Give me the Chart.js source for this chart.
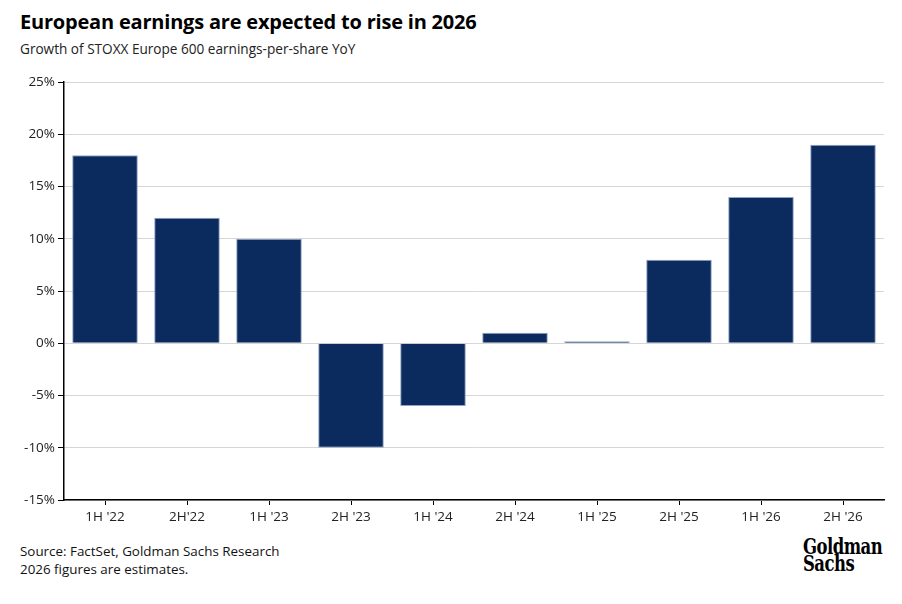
<!DOCTYPE html>
<html>
<head>
<meta charset="utf-8">
<script src="https://cdn.jsdelivr.net/npm/chart.js@4"></script>
<style>
  html, body { margin: 0; padding: 0; background: #fff; }
  body { width: 902px; height: 604px; position: relative; overflow: hidden; font-family: "Open Sans", "Noto Sans", sans-serif; color: #111; }
  #title { position: absolute; left: 20px; top: 8px; font-size: 20px; font-weight: 700; letter-spacing: -0.2px; color: #000; }
  #subtitle { position: absolute; left: 20px; top: 39px; font-size: 13.6px; color: #222; }
  #wrap { position: absolute; left: 0; top: 70px; width: 902px; height: 460px; }
  #foot { position: absolute; left: 20px; top: 542px; font-size: 13.4px; line-height: 18px; color: #111; }
  #logo { position: absolute; left: 803px; top: 538px; font-family: "DejaVu Serif Condensed", "DejaVu Serif", serif; font-weight: 700; font-size: 22px; line-height: 17px; color: #000; letter-spacing: -0.6px; transform: scaleX(0.83); transform-origin: left top; }
</style>
</head>
<body>
<div id="title">European earnings are expected to rise in 2026</div>
<div id="subtitle">Growth of STOXX Europe 600 earnings-per-share YoY</div>
<div id="wrap"><canvas id="c"></canvas></div>
<div id="foot">Source: FactSet, Goldman Sachs Research<br>2026 figures are estimates.</div>
<div id="logo">Goldman<br>Sachs</div>
<script>
const categories = ["1H '22", "2H'22", "1H '23", "2H '23", "1H '24", "2H '24", "1H '25", "2H '25", "1H '26", "2H '26"];
const epsGrowth = [18, 12, 10, -10, -6, 1, 0.2, 8, 14, 19];
const yTicks = [-15, -10, -5, 0, 5, 10, 15, 20, 25];

new Chart(document.getElementById('c'), {
  type: 'bar',
  data: {
    labels: categories,
    datasets: [{
      data: epsGrowth,
      backgroundColor: '#0b2b5e',
      borderColor: '#8fa3c4',
      borderWidth: 1,
      barPercentage: 1.0,
      categoryPercentage: 0.8
    }]
  },
  options: {
    responsive: true,
    maintainAspectRatio: false,
    animation: false,
    layout: { padding: { top: 12, right: 18, left: 0, bottom: 0 } },
    plugins: { legend: { display: false }, tooltip: { enabled: false } },
    scales: {
      x: {
        grid: { drawOnChartArea: false, offset: false, tickColor: '#000', tickLength: 5 },
        border: { color: '#000', width: 1.5 },
        ticks: { color: '#222', font: { family: 'Open Sans', size: 13.5 }, padding: 4, maxRotation: 0 },
        afterFit: s => { s.height = 30; }
      },
      y: {
        min: -15, max: 25,
        afterBuildTicks: s => { s.ticks = yTicks.map(v => ({ value: v })); },
        grid: { color: '#d6d6d6', tickColor: '#000', tickLength: 6, lineWidth: 1 },
        border: { color: '#000', width: 1.5 },
        ticks: { color: '#222', font: { family: 'Open Sans', size: 13.5 }, padding: 3, callback: v => v + '%' },
        afterFit: s => { s.width = 64; }
      }
    }
  }
});
</script>
</body>
</html>
